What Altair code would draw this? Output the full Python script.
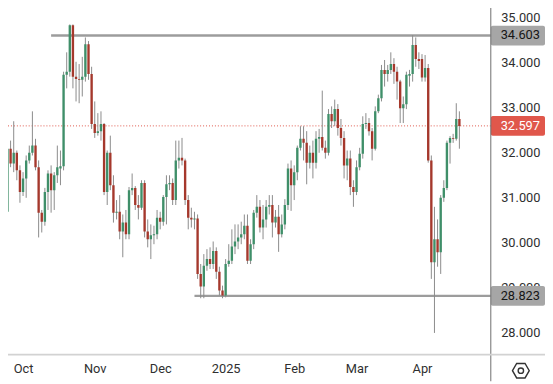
import altair as alt
import pandas as pd
import numpy as np

# ---------------- data ----------------
holidays = ["2024-12-25", "2025-01-01"]
dates = [d.strftime("%Y-%m-%d") for d in pd.bdate_range("2024-09-24", "2025-04-17")
         if d.strftime("%Y-%m-%d") not in holidays]

opens = [30.69, 32.09, 31.76, 32.00, 31.61, 31.13, 31.43, 31.83, 32.00, 32.16,
         31.68, 30.67, 30.47, 31.13, 31.54, 31.17, 31.50, 31.65, 31.70, 33.73,
         33.80, 34.83, 33.69, 33.64, 33.62, 33.69, 34.41, 33.75, 32.64, 32.44,
         32.48, 32.64, 31.13, 32.00, 31.28, 30.67, 30.69, 30.25, 30.45, 30.19,
         31.17, 31.22, 30.84, 30.78, 31.33, 30.25, 30.08, 30.17, 30.19, 30.56,
         30.47, 31.02, 31.30, 31.33, 30.95, 31.83, 31.89, 31.83, 30.95, 30.56,
         30.52, 30.54, 29.31, 29.03, 29.49, 29.64, 29.53, 29.82, 29.36, 28.94,
         28.83, 29.53, 29.60, 29.92, 30.03, 30.12, 30.19, 30.38, 29.60, 29.97,
         30.67, 30.80, 30.34, 30.52, 30.80, 30.84, 30.45, 30.58, 30.19, 30.41,
         30.84, 31.65, 31.28, 31.57, 32.11, 32.31, 32.22, 31.78, 32.00, 31.78,
         32.31, 32.35, 32.11, 32.00, 32.86, 32.70, 32.97, 32.55, 32.33, 31.72,
         31.87, 31.24, 31.13, 31.68, 31.98, 32.64, 32.66, 32.48, 32.09, 32.92,
         33.21, 33.84, 33.75, 33.84, 33.97, 33.80, 33.58, 32.99, 33.08, 33.71,
         33.75, 34.39, 34.08, 34.08, 33.67, 33.88, 31.83, 29.57, 30.08, 29.79,
         31.00, 31.22, 32.22, 32.33, 32.31, 32.75]
highs = [32.13, 32.27, 32.70, 32.05, 31.72, 31.57, 31.94, 32.16, 32.92, 32.31,
         31.83, 30.73, 31.22, 31.61, 31.72, 31.57, 32.16, 32.05, 33.80, 34.23,
         34.85, 34.85, 34.02, 33.97, 34.13, 34.56, 34.48, 33.91, 33.14, 32.88,
         32.92, 32.66, 32.05, 32.38, 31.50, 30.95, 31.06, 30.63, 30.73, 31.24,
         31.54, 31.26, 31.06, 31.39, 31.39, 30.52, 30.41, 30.38, 30.73, 30.69,
         31.06, 31.50, 31.50, 31.43, 32.27, 32.27, 32.33, 31.87, 31.06, 30.78,
         30.69, 30.63, 29.53, 29.75, 29.86, 29.90, 30.03, 29.90, 29.47, 29.05,
         29.64, 29.97, 30.30, 30.41, 30.41, 30.47, 30.63, 30.63, 30.08, 30.73,
         31.06, 30.95, 30.84, 30.95, 31.06, 31.06, 30.73, 30.84, 30.63, 30.97,
         31.76, 31.83, 31.72, 32.16, 32.59, 32.59, 32.48, 32.16, 32.27, 32.48,
         32.53, 33.38, 32.27, 32.97, 33.03, 33.18, 33.08, 32.75, 32.48, 32.05,
         32.05, 31.39, 31.83, 32.11, 32.81, 32.88, 32.77, 32.55, 33.03, 33.29,
         33.95, 34.06, 33.95, 34.23, 34.10, 33.91, 33.62, 33.25, 33.80, 33.84,
         34.61, 34.56, 34.23, 34.19, 34.17, 33.97, 31.94, 30.80, 30.52, 31.06,
         31.39, 32.27, 32.37, 32.42, 33.10, 32.92]
lows = [30.65, 31.68, 31.57, 31.39, 30.89, 31.04, 31.00, 31.76, 31.94, 31.61,
        30.12, 30.23, 30.38, 30.73, 30.67, 30.73, 31.33, 31.28, 31.61, 33.43,
        33.69, 33.43, 33.14, 33.10, 33.25, 33.58, 33.62, 32.53, 32.33, 32.38,
        32.27, 31.06, 30.84, 31.17, 30.45, 30.52, 30.08, 29.68, 30.08, 30.08,
        31.06, 30.73, 30.52, 30.73, 30.12, 29.90, 29.64, 29.97, 30.08, 30.30,
        30.38, 30.41, 31.17, 30.84, 30.84, 31.65, 31.72, 30.84, 30.30, 30.34,
        30.30, 29.20, 28.77, 28.77, 29.38, 29.42, 29.42, 29.20, 28.83, 28.77,
        28.79, 29.47, 29.53, 29.75, 29.86, 29.97, 30.08, 29.53, 29.53, 29.86,
        30.56, 30.23, 30.08, 30.34, 30.63, 30.12, 30.34, 29.80, 30.12, 30.30,
        30.73, 30.71, 30.95, 31.39, 32.05, 31.83, 31.30, 31.65, 31.43, 31.65,
        32.00, 32.05, 31.87, 31.94, 32.55, 32.59, 32.38, 32.16, 31.43, 31.39,
        31.06, 30.80, 31.06, 31.61, 31.87, 32.53, 32.38, 31.83, 32.05, 32.88,
        33.14, 33.47, 33.58, 33.75, 33.53, 33.18, 32.66, 32.66, 32.97, 33.47,
        33.58, 33.91, 33.86, 33.58, 33.58, 31.78, 29.20, 28.00, 29.47, 29.31,
        30.91, 31.17, 31.76, 32.22, 32.27, 32.09]
closes = [32.09, 31.76, 32.00, 31.61, 31.13, 31.43, 31.83, 32.00, 32.16, 31.68,
          30.67, 30.47, 31.13, 31.54, 31.17, 31.50, 31.68, 31.70, 33.73, 33.80,
          34.83, 33.69, 33.64, 33.62, 33.69, 34.41, 33.75, 32.64, 32.44, 32.48,
          32.64, 31.13, 32.00, 31.28, 30.67, 30.69, 30.25, 30.45, 30.19, 31.17,
          31.22, 30.84, 30.78, 31.33, 30.25, 30.08, 30.17, 30.19, 30.56, 30.47,
          31.02, 31.30, 31.33, 30.95, 31.83, 31.89, 31.83, 30.95, 30.56, 30.52,
          30.54, 29.31, 29.03, 29.49, 29.64, 29.53, 29.82, 29.36, 28.94, 28.83,
          29.53, 29.60, 29.92, 30.03, 30.12, 30.19, 30.38, 29.60, 29.97, 30.67,
          30.80, 30.34, 30.52, 30.80, 30.84, 30.45, 30.58, 30.19, 30.41, 30.84,
          31.65, 31.28, 31.57, 32.11, 32.31, 32.22, 31.78, 32.00, 31.78, 32.31,
          32.35, 32.11, 32.00, 32.86, 32.70, 32.97, 32.55, 32.33, 31.72, 31.87,
          31.24, 31.13, 31.68, 31.98, 32.64, 32.66, 32.48, 32.09, 32.92, 33.21,
          33.84, 33.75, 33.84, 33.97, 33.80, 33.58, 32.99, 33.08, 33.73, 33.75,
          34.39, 34.08, 34.04, 33.67, 33.88, 31.83, 29.57, 30.08, 29.79, 31.00,
          31.22, 32.22, 32.33, 32.31, 32.75, 32.597]

level_values = [34.603, 28.823]
level_starts = ["2024-10-14", "2024-12-17"]
last_price = 32.597

month_ticks = ["2024-10-01", "2024-11-01", "2024-12-02", "2025-01-02",
               "2025-02-03", "2025-03-03", "2025-04-01"]
month_labels = ["Oct", "Nov", "Dec", "2025", "Feb", "Mar", "Apr"]
price_ticks = [28, 29, 30, 31, 32, 33, 34, 35]

# ---------------- layout ----------------
W, H = 490, 349
PAD_R, PAD_B = 55, 27
x_dom = [1.75, 153.5]
y_dom = [27.518, 35.153]
px_per_unit = H / (y_dom[1] - y_dom[0])
half_box = 10 / px_per_unit

UP, DOWN = "#3f8f69", "#a5382c"
FONT = "Roboto"
TXT = "#2f2f2f"

df = pd.DataFrame({"i": range(len(dates)), "date": dates, "open": opens,
                   "high": highs, "low": lows, "close": closes})
df["dir"] = np.where(df["close"] >= df["open"], "up", "down")

idx_of = {d: k for k, d in enumerate(dates)}
tick_idx = [idx_of[d] for d in month_ticks]
expr = "''"
for k, lab in zip(reversed(tick_idx), reversed(month_labels)):
    expr = f"datum.value == {k} ? '{lab}' : ({expr})"

xs = alt.Scale(domain=x_dom, nice=False, zero=False)
ys = alt.Scale(domain=y_dom, nice=False, zero=False)

x_axis = alt.Axis(values=tick_idx, labelExpr=expr, title=None, grid=False,
                  domain=False, ticks=False, labelPadding=8, labelFontSize=13,
                  labelFont=FONT, labelColor=TXT, labelFlush=False, labelOverlap=False)
y_axis = alt.Axis(orient="right", values=price_ticks, format=".3f", title=None,
                  grid=False, domain=False, ticks=False, labelPadding=10,
                  labelFontSize=13, labelFont=FONT, labelColor=TXT)

base = alt.Chart(df)

wicks = base.mark_rule(color="#8a8a8a", strokeWidth=1, clip=True).encode(
    x=alt.X("i:Q", scale=xs, axis=x_axis),
    y=alt.Y("low:Q", scale=ys, axis=y_axis),
    y2="high:Q",
)
bodies = base.mark_bar(size=2.4, clip=True).encode(
    x=alt.X("i:Q", scale=xs),
    y=alt.Y("open:Q", scale=ys),
    y2="close:Q",
    color=alt.Color("dir:N", scale=alt.Scale(domain=["up", "down"], range=[UP, DOWN]), legend=None),
)

lv = pd.DataFrame({"level": level_values,
                   "start": [idx_of[d] for d in level_starts]})
level_lines = alt.Chart(lv).mark_rule(color="#9c9c9c", strokeWidth=2.5).encode(
    x=alt.X("start:Q", scale=xs), x2=alt.value(W), y=alt.Y("level:Q", scale=ys))

last_df = pd.DataFrame({"p": [last_price]})
last_line = alt.Chart(last_df).mark_rule(color="#e0574b", strokeDash=[1, 2], strokeWidth=1).encode(
    y=alt.Y("p:Q", scale=ys))

boxes_df = pd.DataFrame({
    "level": level_values + [last_price],
    "kind": ["level", "level", "last"],
})
boxes_df["lo"] = boxes_df["level"] - half_box
boxes_df["hi"] = boxes_df["level"] + half_box
boxes_df["label"] = boxes_df["level"].map(lambda v: f"{v:.3f}")

boxes = alt.Chart(boxes_df).mark_rect(cornerRadius=2).encode(
    x=alt.value(W), x2=alt.value(W + PAD_R),
    y=alt.Y("lo:Q", scale=ys), y2="hi:Q",
    fill=alt.Fill("kind:N", scale=alt.Scale(domain=["level", "last"], range=["#a6a6a6", "#e0574b"]), legend=None),
)
box_text = alt.Chart(boxes_df).mark_text(align="left", baseline="middle", font=FONT, fontSize=13).encode(
    x=alt.value(W + 10),
    y=alt.Y("level:Q", scale=ys),
    text="label:N",
    stroke=alt.value(None),
    opacity=alt.value(1),
    fill=alt.Fill("kind:N", scale=alt.Scale(domain=["level", "last"], range=["#161616", "#ffffff"]), legend=None),
)

one = pd.DataFrame({"a": [0]})
separator = alt.Chart(one).mark_rule(color="#6e6e6e", strokeWidth=1).encode(
    x=alt.value(W), y=alt.value(-8), y2=alt.value(H + PAD_B))
bottom_line = alt.Chart(one).mark_rule(color="#d2d2d2", strokeWidth=2).encode(
    x=alt.value(-8), x2=alt.value(W + PAD_R), y=alt.value(H))

hexpath = "M-1,0 L-0.5,-0.866 L0.5,-0.866 L1,0 L0.5,0.866 L-0.5,0.866 Z"
gear_hex = alt.Chart(one).mark_point(shape=hexpath, size=289, filled=False, strokeWidth=1.4,
                                     color="#333333", opacity=1).encode(
    x=alt.value(W + 30.5), y=alt.value(H + 16.3))
gear_dot = alt.Chart(one).mark_point(shape="circle", size=30, filled=False, strokeWidth=1.4,
                                     color="#333333", opacity=1).encode(
    x=alt.value(W + 30.5), y=alt.value(H + 16.3))

chart = alt.layer(
    last_line, level_lines, wicks, bodies, boxes, box_text,
    separator, bottom_line, gear_hex, gear_dot
).resolve_scale(
    color="independent", fill="independent"
).properties(
    width=W, height=H,
    padding={"left": 0, "top": 0, "right": PAD_R, "bottom": PAD_B},
    autosize=alt.AutoSizeParams(type="none"),
    background="white",
).configure_view(stroke=None)

chart.save("out.html", embed_options={"renderer": "svg", "actions": False})
